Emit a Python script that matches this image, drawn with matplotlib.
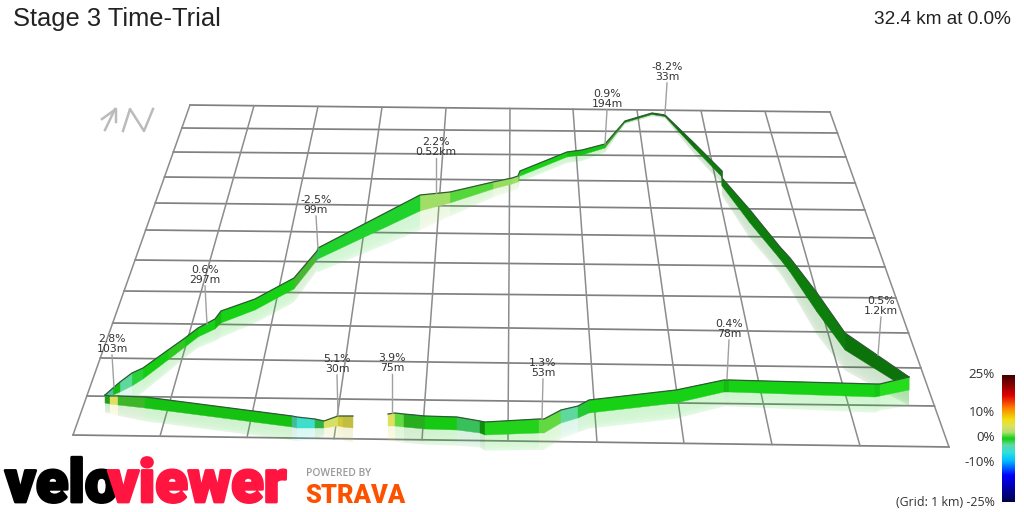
import numpy as np
from matplotlib import pyplot as plt
from matplotlib import patheffects
from matplotlib.colors import LinearSegmentedColormap, Normalize
from matplotlib.patches import Polygon

# grid, picture coordinates
grid_left_y = [105, 128, 152, 177, 203, 230, 260, 291, 323, 358, 396, 435]
grid_right_y = [112, 133, 157, 183, 210, 238, 267, 298, 333, 368, 406, 447]
grid_top_x = [190, 254, 318, 382, 446, 510, 573, 637, 701, 765, 830]
grid_bottom_x = [73, 160, 247, 334, 422, 508, 597, 684, 772, 860, 949]

# first piece of the route, up to the gap in the data
a_x = [105, 110, 118, 145, 292, 297, 315, 324, 338, 343, 353]
a_top = [395, 396, 396, 397, 416, 417, 419, 421, 416, 416, 416]
a_bot = [403, 404, 405, 408, 427, 428, 428, 428, 426, 427, 428]
a_grade = [0.5, 5, 0.8, 0, -3.5, -4.5, -1, 4.5, 6, 5.5]
a_shade = [0.75, 1, 0.85, 0.93, 0.85, 1, 0.85, 1, 0.9, 0.85]

# second piece along the front of the grid
b_x = [388, 395, 404, 425, 457, 480, 485, 539, 544, 561, 578, 589, 676, 724, 729, 875, 880, 909]
b_top = [414, 413, 414, 416, 417, 421, 422, 419, 419, 410, 406, 400, 390, 380, 380, 384, 384, 377]
b_bot = [426, 426, 427, 429, 430, 433, 435, 433, 433, 423, 418, 413, 403, 392, 392, 397, 396, 390]
b_grade = [5, 1.2, 0.5, 0, -1.5, 0, 0.2, 1.3, 1.3, -2.5, -0.7, 0, 0, 0, 0, 0.1, 0.2]
b_shade = [1, 1, 0.82, 0.97, 0.9, 0.68, 1, 1, 1, 1, 0.95, 1, 1, 0.9, 1, 0.95, 1.05]

# third piece: back up the right side, over the top, down the left side
c_x = [909, 845, 817, 790, 780, 750, 722, 722, 695, 665, 652, 625, 605, 582, 567, 520, 518, 512,
       493, 450, 420, 318, 317, 294, 255, 221, 215, 198, 185, 168, 143, 132, 120, 113, 105]
c_top = [377, 333, 293, 258, 247, 210, 178, 171, 144, 115, 113, 121, 144, 150, 152, 171, 176, 178,
         182, 192, 195, 248, 251, 278, 299, 311, 319, 328, 338, 350, 368, 373, 382, 388, 395]
c_bot = [390, 350, 312, 272, 259, 223, 186, 177, 149, 116.5, 114.5, 122.5, 148, 155, 157, 176, 182, 184,
         189, 203, 211, 259, 260, 289, 310, 323, 329, 337, 347, 360, 379, 386, 392, 395, 397]
c_grade = [0.1, 0, 0, 0, 0, 0, 0, 0, 0, 0, 0, 0.9, 0, 0, 0, 1, 2.2, 2, 1, 2.2, -0.5, -5.5, 1, 0,
           0, 0, 0, 0, 0.5, 0, -0.7, -2.5, 0, -3.5]
c_shade = [0.55, 0.6, 0.6, 0.6, 0.6, 0.6, 0.6, 0.6, 0.55, 0.55, 0.65, 0.8, 0.95, 0.92, 1, 0.95, 1, 1,
           1, 1, 1, 0.85, 0.85, 1, 1, 0.88, 1, 0.95, 0.95, 0.98, 1, 1, 0.9, 0.9]

# labels along the route
label_text = ['2.8%\n103m', '0.6%\n297m', '-2.5%\n99m', '2.2%\n0.52km', '0.9%\n194m', '-8.2%\n33m',
              '0.5%\n1.2km', '0.4%\n78m', '1.3%\n53m', '3.9%\n75m', '5.1%\n30m']
label_x = [112, 205, 316, 436, 607, 667, 881, 729, 543, 392, 337]
label_y = [344, 275, 205, 147, 99, 72, 306, 329, 368, 363, 364]
leader_x = [114, 207, 318, 436, 605, 665, 878, 727, 542, 392, 338]
leader_y = [387, 324, 249, 193, 144, 114, 355, 379, 419, 413, 416]

# colour scale
scale_grades = [-25, -20, -14.5, -8.7, -5.5, -2.5, 0, 2.5, 5, 7.5, 10, 12, 17, 20, 25]
scale_colors = ['#00004a', '#0000a0', '#0000ff', '#00c0ff', '#30e0e0', '#60d8a0', '#10d010', '#b0e070',
                '#e0e060', '#f0e010', '#f5b000', '#ff8000', '#e00000', '#a00000', '#400000']
scale_ticks = [25, 10, 0, -10]
scale_tick_labels = ['25%', '10%', '0%', '-10%']

# north sign
arrow_x = [[105, 115], [102, 116, 116]]
arrow_y = [[130, 109], [119, 109, 122]]
north_x = [123, 130, 144, 153]
north_y = [131, 109, 131, 109]

# reflection opacity from the wall foot downwards
fade = [0.2, 0.2, 0.19, 0.18, 0.16, 0.13]

norm = Normalize(-25, 25)
cmap = LinearSegmentedColormap.from_list(
    'grade', [(norm(g), c) for g, c in zip(scale_grades, scale_colors)])


def draw_route(ax, xs, tops, bots, grades, shades):
    for i in range(len(grades)):
        colour = np.array(cmap(norm(grades[i]))[:3]) * shades[i]
        colour = np.clip(colour, 0, 1)
        x0, x1 = xs[i], xs[i + 1]
        h0, h1 = bots[i] - tops[i], bots[i + 1] - tops[i + 1]
        # pale reflection under the wall, fading out
        for k, a in enumerate(fade):
            f0, f1 = 1.2 * k / len(fade), 1.2 * (k + 1) / len(fade)
            ax.add_patch(Polygon([(x0, bots[i] + f0 * h0), (x1, bots[i + 1] + f0 * h1),
                                  (x1, bots[i + 1] + f1 * h1), (x0, bots[i] + f1 * h0)],
                                 facecolor=colour, edgecolor='none', alpha=a, zorder=2))
        ax.add_patch(Polygon([(x0, tops[i]), (x1, tops[i + 1]), (x1, bots[i + 1]), (x0, bots[i])],
                             facecolor=colour, edgecolor=colour, linewidth=0.3, zorder=3))
    ax.plot(xs, tops, color='#2f5a35', lw=0.9, zorder=4, solid_joinstyle='round')


fig = plt.figure(figsize=(10.24, 5.12), dpi=100)
ax = fig.add_axes([0, 0, 1, 1])

for y0, y1 in zip(grid_left_y, grid_right_y):
    f0 = (y0 - grid_left_y[0]) / (grid_left_y[-1] - grid_left_y[0])
    f1 = (y1 - grid_right_y[0]) / (grid_right_y[-1] - grid_right_y[0])
    x0 = grid_top_x[0] + (grid_bottom_x[0] - grid_top_x[0]) * f0
    x1 = grid_top_x[-1] + (grid_bottom_x[-1] - grid_top_x[-1]) * f1
    ax.plot([x0, x1], [y0, y1], color='#808080', lw=1.25, zorder=1)
for x0, x1, i in zip(grid_top_x, grid_bottom_x, range(len(grid_top_x))):
    f = i / (len(grid_top_x) - 1)
    y0 = grid_left_y[0] + (grid_right_y[0] - grid_left_y[0]) * f
    y1 = grid_left_y[-1] + (grid_right_y[-1] - grid_left_y[-1]) * f
    ax.plot([x0, x1], [y0, y1], color='#8c8c8c', lw=1.1, zorder=1)

draw_route(ax, c_x, c_top, c_bot, c_grade, c_shade)
draw_route(ax, b_x, b_top, b_bot, b_grade, b_shade)
draw_route(ax, a_x, a_top, a_bot, a_grade, a_shade)

for t, tx, ty, lx, ly in zip(label_text, label_x, label_y, leader_x, leader_y):
    ax.plot([tx, lx], [ty + 11, ly], color='#a0a0a0', lw=1, zorder=5)
    ax.text(tx, ty, t, ha='center', va='center', fontsize=7.8, color='#333333',
            linespacing=0.98, zorder=6)

for xs, ys in zip(arrow_x, arrow_y):
    ax.plot(xs, ys, color='#bbbbbb', lw=1.8, zorder=1)
ax.plot(north_x, north_y, color='#bbbbbb', lw=1.8, zorder=1)

# colour bar
bar = np.linspace(25, -25, 256).reshape(-1, 1)
ax.imshow(bar, cmap=cmap, norm=norm, extent=(1002, 1015, 502, 375), aspect='auto', zorder=2)
for g, t in zip(scale_ticks, scale_tick_labels):
    ax.text(995, 437.5 - g * 2.5, t, ha='right', va='center', fontsize=9.6, family='Open Sans',
            color='#333333')
ax.text(995, 502, '(Grid: 1 km) -25%', ha='right', va='center', fontsize=8.9, family='Open Sans',
        color='#333333')

ax.text(13, 19, 'Stage 3 Time-Trial', ha='left', va='center', fontsize=18.4,
        family='Liberation Sans', color='#222222')
ax.text(1011, 19, '32.4 km at 0.0%', ha='right', va='center', fontsize=13.7,
        family='Liberation Sans', color='#222222')

# logos
for word, x, colour in [('velo', 5, 'black'), ('viewer', 108, '#ff1540')]:
    ax.text(x, 502, word, ha='left', va='baseline', fontsize=43, family='Roboto', weight='black',
            color=colour, path_effects=[patheffects.withStroke(linewidth=2, foreground=colour)])
ax.text(306, 474, 'POWERED BY', ha='left', va='center', fontsize=7.4, family='Open Sans',
        weight='semibold', color='#999999')
ax.text(305, 503, 'STRAVA', ha='left', va='baseline', fontsize=18.4, family='Roboto', weight='black',
        color='#fc5200')

ax.set_xlim(0, 1024)
ax.set_ylim(512, 0)
ax.axis('off')
fig.savefig('out.png', dpi=100)
